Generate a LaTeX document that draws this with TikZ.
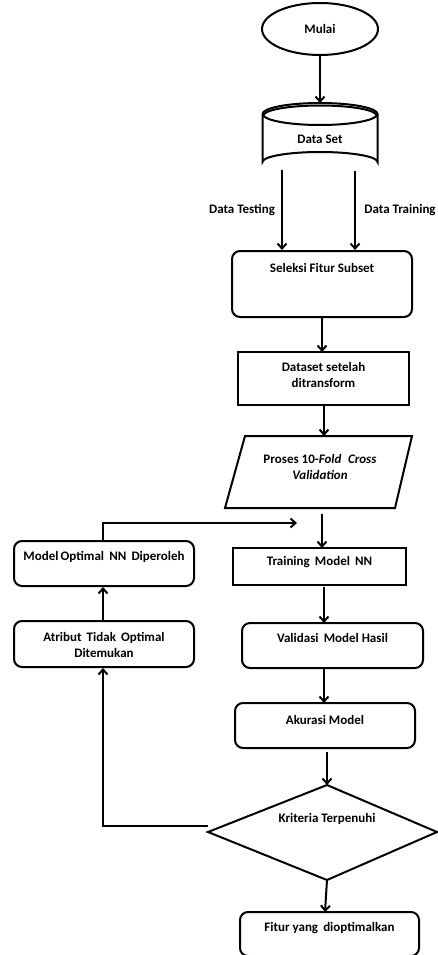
\documentclass[tikz,border=0pt]{standalone}
\usepackage{fontspec}
\setmainfont{Carlito}
\usetikzlibrary{arrows.meta,shapes.geometric}
\begin{document}
\begin{tikzpicture}[x=1pt,y=-1pt,
  line width=2pt,
  arr/.style={-{Straight Barb[length=5pt,width=9pt,line width=2pt]}},
  txt/.style={font=\fontsize{13}{15.5}\selectfont\bfseries, inner sep=0pt, align=center},
  rbox/.style={draw, rounded corners=8pt, inner sep=0pt},
  sbox/.style={draw, inner sep=0pt}]
\useasboundingbox (0,0) rectangle (437,955);
% Mulai
\node[draw, ellipse, minimum width=116pt, minimum height=52pt, inner sep=0pt, txt] (mulai) at (320,29) {Mulai};
% Data Set cylinder
\coordinate (dstop) at (320,103);
\draw (262.5,114) arc[x radius=57.5, y radius=11, start angle=180, end angle=-180];
\draw (263.5,115.5) arc[x radius=56.5, y radius=10, start angle=180, end angle=360];
\draw (262.5,114) -- (262.5,162) arc[x radius=57.5, y radius=10, start angle=180, end angle=360] -- (377.5,114);
\node[txt] (ds) at (320,139) {Data Set};
\coordinate (dsL) at (282,170);
\coordinate (dsR) at (355,171);
% Seleksi
\node[rbox, minimum width=180pt, minimum height=66pt] (sel) at (322,284) {};
\node[txt] (selt) at (322,268) {Seleksi Fitur Subset};
\draw[arr] (mulai.south) -- (dstop);
\draw[arr] (dsL) -- (dsL |- sel.north);
\draw[arr] (dsR) -- (dsR |- sel.north);
\node[txt] (dtest) at (242,210) {Data Testing};
\node[txt] (dtrain) at (400,210) {Data Training};
% Dataset setelah
\node[sbox, minimum width=171pt, minimum height=53pt] (dst) at (323.5,378.5) {};
\node[txt] (dstt) at (323.5,375) {Dataset setelah\\ditransform};
\draw[arr] (sel.south -| 322,0) -- (322,352);
% parallelogram
\coordinate (p1) at (245,436);
\coordinate (p2) at (412,436);
\coordinate (p3) at (395,508);
\coordinate (p4) at (225,508);
\draw (p1) -- (p2) -- (p3) -- (p4) -- cycle;
\node[txt] (pt) at (320,467) {Proses 10-\textit{Fold}\enspace\textit{Cross}\\\textit{Validation}};
\draw[arr] (324,405) -- (324,436);
% Training
\node[sbox, minimum width=173pt, minimum height=37pt] (tr) at (319.5,566.5) {};
\node[txt] (trt) at (319.5,562) {Training\, Model\, NN};
\coordinate (pb) at (322,514);
\draw[arr] (pb) -- (322,548);
% Model optimal
\node[rbox, minimum width=180pt, minimum height=45pt] (mo) at (104,563.5) {};
\node[txt] (mot) at (104,557) {Model\,Optimal\, NN\, Diperoleh};
% Atribut
\node[rbox, minimum width=180pt, minimum height=46pt] (at) at (104,644) {};
\node[txt] (att) at (104,645) {Atribut\, Tidak\, Optimal\\Ditemukan};
\coordinate (fbt) at (297,523);
\draw[arr] (103,541) -- (103,523) -- (fbt);
\draw[arr] (at.north -| 103,0) -- (103,587);
% Validasi
\node[rbox, minimum width=181pt, minimum height=45pt] (va) at (332.5,645.5) {};
\node[txt] (vat) at (332.5,638) {Validasi\, Model Hasil};
\draw[arr] (324,587) -- (324,623);
% Akurasi
\node[rbox, minimum width=180pt, minimum height=45pt] (ak) at (325,725.5) {};
\node[txt] (akt) at (325,720) {Akurasi Model};
\draw[arr] (324,668) -- (324,703);
% Diamond
\coordinate (dT) at (327,785);
\coordinate (dL) at (208,832);
\coordinate (dR) at (437,832);
\coordinate (dB) at (327,880);
\draw (dT) -- (dR) -- (dB) -- (dL) -- cycle;
\node[txt] (dt) at (327,819) {Kriteria Terpenuhi};
\draw[arr] (327,752) -- (dT);
\coordinate (fbl) at (208,826);
\draw[arr] (fbl) -- (103,826) -- (at.south -| 103,0);
% Fitur
\node[rbox, minimum width=179pt, minimum height=44pt] (fi) at (329.5,934) {};
\node[txt] (fit) at (329.5,928) {Fitur yang\, dioptimalkan};
\draw[arr] (dB) -- (325,912);
\end{tikzpicture}
\end{document}
